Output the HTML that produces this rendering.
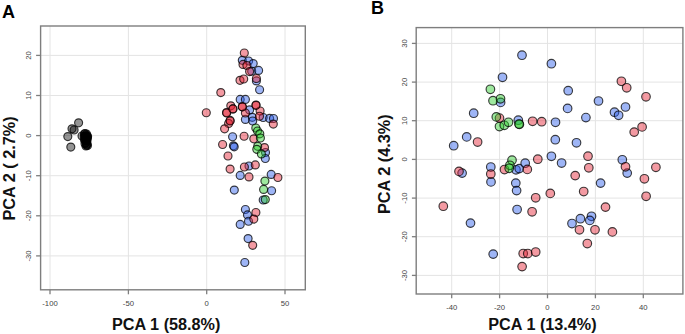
<!DOCTYPE html>
<html><head><meta charset="utf-8"><style>
html,body{margin:0;padding:0;background:#fff;}
body{width:685px;height:334px;overflow:hidden;}
svg{display:block;}
text{font-family:"Liberation Sans",sans-serif;}
.tk{font-size:7.7px;fill:#444;}
.pl{font-size:18px;font-weight:bold;fill:#000;}
.ti{font-size:15.6px;font-weight:bold;fill:#111;}
</style></head><body>
<svg width="685" height="334" viewBox="0 0 685 334">
<line x1="50.0" y1="26.0" x2="50.0" y2="289.8" stroke="#e4e4e4" stroke-width="1"/><line x1="128.4" y1="26.0" x2="128.4" y2="289.8" stroke="#e4e4e4" stroke-width="1"/><line x1="206.7" y1="26.0" x2="206.7" y2="289.8" stroke="#e4e4e4" stroke-width="1"/><line x1="285.0" y1="26.0" x2="285.0" y2="289.8" stroke="#e4e4e4" stroke-width="1"/><line x1="40.6" y1="55.4" x2="305.3" y2="55.4" stroke="#e4e4e4" stroke-width="1"/><line x1="40.6" y1="95.5" x2="305.3" y2="95.5" stroke="#e4e4e4" stroke-width="1"/><line x1="40.6" y1="135.6" x2="305.3" y2="135.6" stroke="#e4e4e4" stroke-width="1"/><line x1="40.6" y1="175.7" x2="305.3" y2="175.7" stroke="#e4e4e4" stroke-width="1"/><line x1="40.6" y1="215.8" x2="305.3" y2="215.8" stroke="#e4e4e4" stroke-width="1"/><line x1="40.6" y1="255.9" x2="305.3" y2="255.9" stroke="#e4e4e4" stroke-width="1"/><rect x="40.6" y="26.0" width="264.7" height="263.8" fill="none" stroke="#7e7e7e" stroke-width="1.4"/><line x1="50.0" y1="289.8" x2="50.0" y2="294.3" stroke="#7e7e7e" stroke-width="1.3"/><text x="50.0" y="306.3" text-anchor="middle" class="tk">-100</text><line x1="128.4" y1="289.8" x2="128.4" y2="294.3" stroke="#7e7e7e" stroke-width="1.3"/><text x="128.4" y="306.3" text-anchor="middle" class="tk">-50</text><line x1="206.7" y1="289.8" x2="206.7" y2="294.3" stroke="#7e7e7e" stroke-width="1.3"/><text x="206.7" y="306.3" text-anchor="middle" class="tk">0</text><line x1="285.0" y1="289.8" x2="285.0" y2="294.3" stroke="#7e7e7e" stroke-width="1.3"/><text x="285.0" y="306.3" text-anchor="middle" class="tk">50</text><line x1="36.1" y1="55.4" x2="40.6" y2="55.4" stroke="#7e7e7e" stroke-width="1.3"/><text transform="translate(31.2,55.4) rotate(-90)" text-anchor="middle" class="tk">20</text><line x1="36.1" y1="95.5" x2="40.6" y2="95.5" stroke="#7e7e7e" stroke-width="1.3"/><text transform="translate(31.2,95.5) rotate(-90)" text-anchor="middle" class="tk">10</text><line x1="36.1" y1="135.6" x2="40.6" y2="135.6" stroke="#7e7e7e" stroke-width="1.3"/><text transform="translate(31.2,135.6) rotate(-90)" text-anchor="middle" class="tk">0</text><line x1="36.1" y1="175.7" x2="40.6" y2="175.7" stroke="#7e7e7e" stroke-width="1.3"/><text transform="translate(31.2,175.7) rotate(-90)" text-anchor="middle" class="tk">-10</text><line x1="36.1" y1="215.8" x2="40.6" y2="215.8" stroke="#7e7e7e" stroke-width="1.3"/><text transform="translate(31.2,215.8) rotate(-90)" text-anchor="middle" class="tk">-20</text><line x1="36.1" y1="255.9" x2="40.6" y2="255.9" stroke="#7e7e7e" stroke-width="1.3"/><text transform="translate(31.2,255.9) rotate(-90)" text-anchor="middle" class="tk">-30</text><line x1="451.7" y1="27.6" x2="451.7" y2="294.0" stroke="#e4e4e4" stroke-width="1"/><line x1="499.6" y1="27.6" x2="499.6" y2="294.0" stroke="#e4e4e4" stroke-width="1"/><line x1="547.5" y1="27.6" x2="547.5" y2="294.0" stroke="#e4e4e4" stroke-width="1"/><line x1="595.4" y1="27.6" x2="595.4" y2="294.0" stroke="#e4e4e4" stroke-width="1"/><line x1="643.3" y1="27.6" x2="643.3" y2="294.0" stroke="#e4e4e4" stroke-width="1"/><line x1="416.2" y1="43.4" x2="682.9" y2="43.4" stroke="#e4e4e4" stroke-width="1"/><line x1="416.2" y1="82.1" x2="682.9" y2="82.1" stroke="#e4e4e4" stroke-width="1"/><line x1="416.2" y1="120.7" x2="682.9" y2="120.7" stroke="#e4e4e4" stroke-width="1"/><line x1="416.2" y1="159.4" x2="682.9" y2="159.4" stroke="#e4e4e4" stroke-width="1"/><line x1="416.2" y1="198.1" x2="682.9" y2="198.1" stroke="#e4e4e4" stroke-width="1"/><line x1="416.2" y1="236.7" x2="682.9" y2="236.7" stroke="#e4e4e4" stroke-width="1"/><line x1="416.2" y1="275.4" x2="682.9" y2="275.4" stroke="#e4e4e4" stroke-width="1"/><rect x="416.2" y="27.6" width="266.7" height="266.4" fill="none" stroke="#7e7e7e" stroke-width="1.4"/><line x1="451.7" y1="294.0" x2="451.7" y2="298.3" stroke="#7e7e7e" stroke-width="1.3"/><text x="451.7" y="310.2" text-anchor="middle" class="tk">-40</text><line x1="499.6" y1="294.0" x2="499.6" y2="298.3" stroke="#7e7e7e" stroke-width="1.3"/><text x="499.6" y="310.2" text-anchor="middle" class="tk">-20</text><line x1="547.5" y1="294.0" x2="547.5" y2="298.3" stroke="#7e7e7e" stroke-width="1.3"/><text x="547.5" y="310.2" text-anchor="middle" class="tk">0</text><line x1="595.4" y1="294.0" x2="595.4" y2="298.3" stroke="#7e7e7e" stroke-width="1.3"/><text x="595.4" y="310.2" text-anchor="middle" class="tk">20</text><line x1="643.3" y1="294.0" x2="643.3" y2="298.3" stroke="#7e7e7e" stroke-width="1.3"/><text x="643.3" y="310.2" text-anchor="middle" class="tk">40</text><line x1="411.9" y1="43.4" x2="416.2" y2="43.4" stroke="#7e7e7e" stroke-width="1.3"/><text transform="translate(406.5,43.4) rotate(-90)" text-anchor="middle" class="tk">30</text><line x1="411.9" y1="82.1" x2="416.2" y2="82.1" stroke="#7e7e7e" stroke-width="1.3"/><text transform="translate(406.5,82.1) rotate(-90)" text-anchor="middle" class="tk">20</text><line x1="411.9" y1="120.7" x2="416.2" y2="120.7" stroke="#7e7e7e" stroke-width="1.3"/><text transform="translate(406.5,120.7) rotate(-90)" text-anchor="middle" class="tk">10</text><line x1="411.9" y1="159.4" x2="416.2" y2="159.4" stroke="#7e7e7e" stroke-width="1.3"/><text transform="translate(406.5,159.4) rotate(-90)" text-anchor="middle" class="tk">0</text><line x1="411.9" y1="198.1" x2="416.2" y2="198.1" stroke="#7e7e7e" stroke-width="1.3"/><text transform="translate(406.5,198.1) rotate(-90)" text-anchor="middle" class="tk">-10</text><line x1="411.9" y1="236.7" x2="416.2" y2="236.7" stroke="#7e7e7e" stroke-width="1.3"/><text transform="translate(406.5,236.7) rotate(-90)" text-anchor="middle" class="tk">-20</text><line x1="411.9" y1="275.4" x2="416.2" y2="275.4" stroke="#7e7e7e" stroke-width="1.3"/><text transform="translate(406.5,275.4) rotate(-90)" text-anchor="middle" class="tk">-30</text><g fill="rgb(0,0,0)" fill-opacity="0.42" stroke="rgba(0,0,0,0.75)" stroke-width="1.15"><circle cx="78.6" cy="122.8" r="4.0"/><circle cx="72" cy="128.8" r="4.0"/><circle cx="74.1" cy="130" r="4.0"/><circle cx="67.8" cy="136.6" r="4.0"/><circle cx="70.8" cy="147.1" r="4.0"/><circle cx="82" cy="136" r="4.0"/><circle cx="84.5" cy="134" r="4.0"/><circle cx="86.5" cy="134" r="4.0"/><circle cx="85" cy="133.5" r="4.0"/><circle cx="85" cy="137" r="4.0"/><circle cx="87.5" cy="137.5" r="4.0"/><circle cx="84.5" cy="140" r="4.0"/><circle cx="87" cy="141" r="4.0"/><circle cx="85" cy="143.5" r="4.0"/><circle cx="87" cy="144" r="4.0"/><circle cx="86.5" cy="145" r="4.0"/><circle cx="87.6" cy="136.2" r="4.0"/><circle cx="86" cy="138" r="4.0"/><circle cx="85.5" cy="135.5" r="4.0"/><circle cx="86" cy="140.5" r="4.0"/><circle cx="86" cy="142.5" r="4.0"/><circle cx="85" cy="139" r="4.0"/><circle cx="87" cy="139" r="4.0"/><circle cx="87.5" cy="145.5" r="4.0"/><circle cx="86" cy="146" r="4.0"/><circle cx="84.5" cy="136.5" r="4.0"/><circle cx="86.5" cy="136" r="4.0"/></g><g fill="rgb(40,90,235)" fill-opacity="0.45" stroke="rgba(0,0,0,0.75)" stroke-width="1.15"><circle cx="242.3" cy="60.3" r="4.0"/><circle cx="248.6" cy="61.0" r="4.0"/><circle cx="253.2" cy="63.6" r="4.0"/><circle cx="251.7" cy="71.2" r="4.0"/><circle cx="258.6" cy="70.4" r="4.0"/><circle cx="256.4" cy="80.9" r="4.0"/><circle cx="259.6" cy="89.7" r="4.0"/><circle cx="240.2" cy="99.4" r="4.0"/><circle cx="245.4" cy="99.4" r="4.0"/><circle cx="249.6" cy="109.9" r="4.0"/><circle cx="245.4" cy="119.4" r="4.0"/><circle cx="252.3" cy="117.3" r="4.0"/><circle cx="252.7" cy="121.0" r="4.0"/><circle cx="263.2" cy="117.5" r="4.0"/><circle cx="269.6" cy="118.4" r="4.0"/><circle cx="273.5" cy="118.5" r="4.0"/><circle cx="232.6" cy="136.7" r="4.0"/><circle cx="233.4" cy="145.8" r="4.0"/><circle cx="234.2" cy="146.8" r="4.0"/><circle cx="265.5" cy="152.5" r="4.0"/><circle cx="265.3" cy="158.5" r="4.0"/><circle cx="249.0" cy="166.0" r="4.0"/><circle cx="240.2" cy="175.4" r="4.0"/><circle cx="271.2" cy="174.4" r="4.0"/><circle cx="234.3" cy="190.1" r="4.0"/><circle cx="271.6" cy="190.7" r="4.0"/><circle cx="263.2" cy="200.0" r="4.0"/><circle cx="245.4" cy="209.5" r="4.0"/><circle cx="247.5" cy="214.9" r="4.0"/><circle cx="248.5" cy="221.2" r="4.0"/><circle cx="240.2" cy="224.4" r="4.0"/><circle cx="248.1" cy="238.6" r="4.0"/><circle cx="244.8" cy="262.5" r="4.0"/></g><g fill="rgb(228,30,48)" fill-opacity="0.45" stroke="rgba(0,0,0,0.75)" stroke-width="1.15"><circle cx="244.3" cy="53.0" r="4.0"/><circle cx="243.0" cy="64.4" r="4.0"/><circle cx="246.9" cy="65.5" r="4.0"/><circle cx="249.6" cy="71.6" r="4.0"/><circle cx="256.4" cy="78.5" r="4.0"/><circle cx="240.0" cy="80.3" r="4.0"/><circle cx="243.7" cy="79.0" r="4.0"/><circle cx="220.8" cy="92.6" r="4.0"/><circle cx="206.3" cy="112.7" r="4.0"/><circle cx="230.8" cy="105.8" r="4.0"/><circle cx="232.9" cy="108.9" r="4.0"/><circle cx="226.5" cy="112.6" r="4.0"/><circle cx="242.3" cy="106.8" r="4.0"/><circle cx="245.4" cy="113.0" r="4.0"/><circle cx="256.0" cy="105.0" r="4.0"/><circle cx="260.1" cy="111.0" r="4.0"/><circle cx="259.5" cy="116.2" r="4.0"/><circle cx="273.3" cy="124.1" r="4.0"/><circle cx="230.1" cy="120.4" r="4.0"/><circle cx="228.6" cy="123.5" r="4.0"/><circle cx="224.6" cy="128.8" r="4.0"/><circle cx="244.1" cy="136.2" r="4.0"/><circle cx="253.8" cy="138.8" r="4.0"/><circle cx="222.6" cy="144.5" r="4.0"/><circle cx="228.0" cy="156.0" r="4.0"/><circle cx="264.5" cy="147.6" r="4.0"/><circle cx="230.1" cy="169.1" r="4.0"/><circle cx="244.4" cy="167.0" r="4.0"/><circle cx="255.3" cy="164.9" r="4.0"/><circle cx="249.0" cy="176.9" r="4.0"/><circle cx="277.9" cy="177.5" r="4.0"/><circle cx="255.9" cy="212.5" r="4.0"/><circle cx="253.8" cy="219.1" r="4.0"/><circle cx="252.7" cy="245.3" r="4.0"/><circle cx="226.7" cy="113.0" r="4.0"/><circle cx="232.9" cy="108.9" r="4.0"/><circle cx="256.0" cy="105.3" r="4.0"/><circle cx="242.3" cy="106.8" r="4.0"/><circle cx="230.1" cy="121.0" r="4.0"/></g><g fill="rgb(40,205,40)" fill-opacity="0.45" stroke="rgba(0,0,0,0.75)" stroke-width="1.15"><circle cx="255.8" cy="128.0" r="4.0"/><circle cx="257.5" cy="131.0" r="4.0"/><circle cx="259.8" cy="133.8" r="4.0"/><circle cx="260.4" cy="138.0" r="4.0"/><circle cx="257.7" cy="146.3" r="4.0"/><circle cx="256.8" cy="149.3" r="4.0"/><circle cx="261.4" cy="153.9" r="4.0"/><circle cx="264.9" cy="181.1" r="4.0"/><circle cx="263.6" cy="189.4" r="4.0"/><circle cx="265.3" cy="199.6" r="4.0"/></g><g fill="rgb(40,90,235)" fill-opacity="0.45" stroke="rgba(0,0,0,0.75)" stroke-width="1.15"><circle cx="522.0" cy="55.2" r="4.3"/><circle cx="502.5" cy="77.3" r="4.3"/><circle cx="500.6" cy="102.4" r="4.3"/><circle cx="551.4" cy="63.7" r="4.3"/><circle cx="568.2" cy="90.7" r="4.3"/><circle cx="598.5" cy="101.0" r="4.3"/><circle cx="567.6" cy="108.4" r="4.3"/><circle cx="625.5" cy="107.0" r="4.3"/><circle cx="614.5" cy="112.2" r="4.3"/><circle cx="618.6" cy="115.3" r="4.3"/><circle cx="585.9" cy="117.6" r="4.3"/><circle cx="555.5" cy="122.3" r="4.3"/><circle cx="555.3" cy="139.7" r="4.3"/><circle cx="576.5" cy="142.8" r="4.3"/><circle cx="551.4" cy="156.3" r="4.3"/><circle cx="561.6" cy="163.0" r="4.3"/><circle cx="622.3" cy="159.8" r="4.3"/><circle cx="627.2" cy="173.1" r="4.3"/><circle cx="600.6" cy="183.1" r="4.3"/><circle cx="473.7" cy="113.2" r="4.3"/><circle cx="466.7" cy="136.9" r="4.3"/><circle cx="453.7" cy="145.7" r="4.3"/><circle cx="462.1" cy="173.1" r="4.3"/><circle cx="470.5" cy="223.1" r="4.3"/><circle cx="518.3" cy="120.2" r="4.3"/><circle cx="490.8" cy="167.0" r="4.3"/><circle cx="491.0" cy="181.9" r="4.3"/><circle cx="516.0" cy="169.8" r="4.3"/><circle cx="519.2" cy="168.6" r="4.3"/><circle cx="525.2" cy="163.2" r="4.3"/><circle cx="515.8" cy="183.1" r="4.3"/><circle cx="516.6" cy="190.6" r="4.3"/><circle cx="517.1" cy="209.5" r="4.3"/><circle cx="493.2" cy="254.1" r="4.3"/><circle cx="580.4" cy="218.7" r="4.3"/><circle cx="591.5" cy="216.3" r="4.3"/><circle cx="589.8" cy="220.4" r="4.3"/><circle cx="572.0" cy="223.5" r="4.3"/></g><g fill="rgb(228,30,48)" fill-opacity="0.45" stroke="rgba(0,0,0,0.75)" stroke-width="1.15"><circle cx="621.4" cy="81.3" r="4.3"/><circle cx="626.7" cy="87.8" r="4.3"/><circle cx="646.0" cy="96.8" r="4.3"/><circle cx="642.1" cy="126.9" r="4.3"/><circle cx="634.2" cy="132.1" r="4.3"/><circle cx="625.5" cy="166.8" r="4.3"/><circle cx="655.9" cy="167.3" r="4.3"/><circle cx="644.4" cy="178.8" r="4.3"/><circle cx="646.1" cy="196.3" r="4.3"/><circle cx="477.6" cy="142.0" r="4.3"/><circle cx="499.5" cy="118.1" r="4.3"/><circle cx="532.6" cy="121.3" r="4.3"/><circle cx="541.7" cy="121.7" r="4.3"/><circle cx="537.8" cy="159.2" r="4.3"/><circle cx="588.0" cy="156.2" r="4.3"/><circle cx="588.8" cy="167.8" r="4.3"/><circle cx="575.2" cy="175.6" r="4.3"/><circle cx="583.7" cy="191.5" r="4.3"/><circle cx="605.5" cy="207.1" r="4.3"/><circle cx="550.3" cy="193.4" r="4.3"/><circle cx="535.7" cy="197.8" r="4.3"/><circle cx="532.1" cy="211.8" r="4.3"/><circle cx="579.5" cy="229.8" r="4.3"/><circle cx="595.0" cy="229.8" r="4.3"/><circle cx="612.4" cy="231.9" r="4.3"/><circle cx="587.3" cy="243.5" r="4.3"/><circle cx="459.0" cy="171.4" r="4.3"/><circle cx="443.3" cy="206.2" r="4.3"/><circle cx="490.8" cy="174.0" r="4.3"/><circle cx="504.5" cy="169.5" r="4.3"/><circle cx="527.3" cy="169.4" r="4.3"/><circle cx="523.2" cy="253.5" r="4.3"/><circle cx="527.8" cy="253.5" r="4.3"/><circle cx="535.7" cy="252.0" r="4.3"/><circle cx="522.1" cy="266.6" r="4.3"/></g><g fill="rgb(40,205,40)" fill-opacity="0.45" stroke="rgba(0,0,0,0.75)" stroke-width="1.15"><circle cx="490.4" cy="89.3" r="4.3"/><circle cx="493.0" cy="100.7" r="4.3"/><circle cx="500.5" cy="98.8" r="4.3"/><circle cx="496.3" cy="116.9" r="4.3"/><circle cx="499.5" cy="126.5" r="4.3"/><circle cx="504.3" cy="125.3" r="4.3"/><circle cx="508.5" cy="122.3" r="4.3"/><circle cx="519.4" cy="124.4" r="4.3"/><circle cx="512.0" cy="160.2" r="4.3"/><circle cx="509.9" cy="165.3" r="4.3"/><circle cx="509.2" cy="168.3" r="4.3"/><circle cx="519.0" cy="124.0" r="4.3"/></g><text x="1.9" y="18" class="pl">A</text><text x="370.9" y="14.2" class="pl">B</text><text x="112.0" y="329.8" class="ti" textLength="108.4" lengthAdjust="spacingAndGlyphs">PCA 1 (58.8%)</text><text x="488.3" y="329.9" class="ti" textLength="108.3" lengthAdjust="spacingAndGlyphs">PCA 1 (13.4%)</text><text transform="translate(15.3,220.5) rotate(-90)" class="ti" textLength="104.2" lengthAdjust="spacingAndGlyphs">PCA 2 ( 2.7%)</text><text transform="translate(389.6,214.0) rotate(-90)" class="ti" textLength="99.6" lengthAdjust="spacingAndGlyphs">PCA 2 (4.3%)</text>
</svg>
</body></html>
